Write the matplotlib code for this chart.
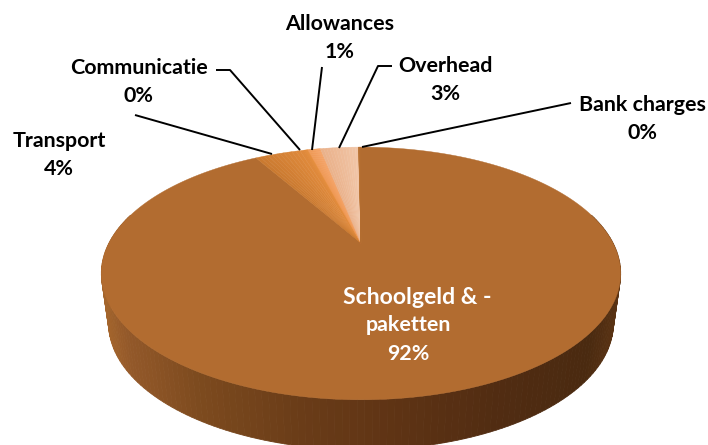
import numpy as np
import matplotlib
matplotlib.use("Agg")
import matplotlib.pyplot as plt
from matplotlib.patches import Polygon
from matplotlib.colors import to_rgb

# Data (clockwise from 12 o'clock)
categories = ["Schoolgeld & -\npaketten", "Transport", "Communicatie", "Allowances", "Overhead", "Bank charges"]
values = [91.6, 3.9, 0.3, 1.0, 3.0, 0.2]
pct_labels = ["92%", "4%", "0%", "1%", "3%", "0%"]
colors_start = ["#B26C30", "#C9792F", "#E08A3C", "#EE9650", "#EAB18A", "#C07A3A"]
colors_end = ["#B26C30", "#E08A3C", "#E6903F", "#F5A365", "#F1C6A8", "#B26C30"]

fig = plt.figure(figsize=(7.08, 4.45), dpi=100)
ax = fig.add_axes([0, 0, 1, 1])
ax.set_xlim(0, 708); ax.set_ylim(445, 0); ax.axis("off")

AX, AY = 361.0, 243.0     # apex on screen
K, A, C = 252.0, 119.0, 0.241   # perspective parameters
DEPTH, SHRINK = 50.0, 0.972


def proj(theta):
    u, v = np.sin(theta), np.cos(theta)
    w = 1 + C*v
    return AX + K*u/w, AY - A*v/w


def wall_color(x):
    xs = [100, 125, 200, 300, 400, 500, 590, 622]
    cols = ["#A5662C", "#94592A", "#7C4A1E", "#6A3C18", "#5E3314", "#512C12", "#4A2A10", "#5C3414"]
    rgb = np.array([to_rgb(c) for c in cols])
    return tuple(np.interp(x, xs, rgb[:, i]) for i in range(3))


# side wall
th = np.linspace(np.pi/2 - 0.25, 3*np.pi/2 + 0.25, 160)
for a, b in zip(th[:-1], th[1:]):
    x1, y1 = proj(a); x2, y2 = proj(b)
    xc = AX + (x1 - AX)*SHRINK; xd = AX + (x2 - AX)*SHRINK
    col = wall_color((x1 + x2)/2)
    ax.add_patch(Polygon([(x1, y1), (x2, y2), (xd, y2 + DEPTH), (xc, y1 + DEPTH)],
                         closed=True, fc=col, ec=col, lw=0.6, zorder=1))

# top face
fractions = np.array(values)/np.sum(values)
edges = np.concatenate([[0], np.cumsum(fractions)])*2*np.pi
for f0, f1, c0, c1 in zip(edges[:-1], edges[1:], colors_start, colors_end):
    n = 1 if c0 == c1 else 12
    t = np.linspace(f0, f1, n + 1)
    r0, r1 = np.array(to_rgb(c0)), np.array(to_rgb(c1))
    for i in range(n):
        seg = np.linspace(t[i], t[i + 1], 400 if n == 1 else 8)
        xs, ys = proj(seg)
        col = tuple(r0 + (r1 - r0)*(i + 0.5)/n)
        ax.add_patch(Polygon(np.vstack([[AX, AY], np.column_stack([xs, ys])]),
                             closed=True, fc=col, ec=col, lw=0.3, zorder=2))

# labels
font = dict(family="Lato", fontweight="bold", fontsize=15.4, ha="center", va="center",
            linespacing=1.5, zorder=5)
line1, line2 = categories[0].split("\n")
ax.text(417, 297, line1, color="white", **{**font, "fontsize": 16.6})
ax.text(408, 325, line2, color="white", **font)
ax.text(408, 354, pct_labels[0], color="white", **font)
ax.text(59, 155, f"{categories[1]}\n{pct_labels[1]}", color="black", **font)
ax.text(139, 82, f"{categories[2]}\n{pct_labels[2]}", color="black", **font)
ax.text(340, 38, f"{categories[3]}\n{pct_labels[3]}", color="black", **font)
ax.text(445, 80, f"{categories[4]}\n{pct_labels[4]}", color="black", **font)
ax.text(642, 119, f"{categories[5]}\n{pct_labels[5]}", color="black", **font)

# leader lines
leaders = [
    ([135, 272], [115, 154]),
    ([216, 230, 300], [70, 70, 150]),
    ([322, 312], [67, 150]),
    ([392, 378, 339], [66, 66, 148]),
    ([571, 362], [103, 147]),
]
for lx, ly in leaders:
    ax.plot(lx, ly, color="black", lw=1.4, zorder=4, solid_capstyle="butt")

fig.savefig("out.png", dpi=100)
